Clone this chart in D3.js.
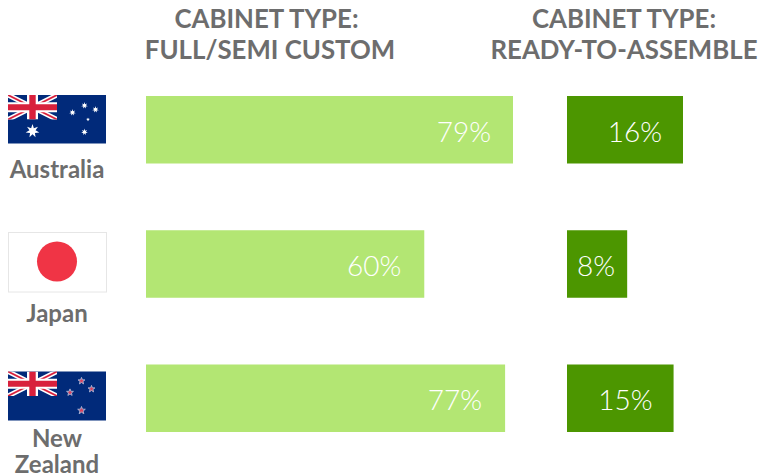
<!DOCTYPE html>
<html><head><meta charset="utf-8">
<script src="https://cdn.jsdelivr.net/npm/d3@7"></script>
<style>html,body{margin:0;padding:0;background:#fff}svg{display:block}text{font-family:Lato,sans-serif}</style>
</head><body><svg id="c" width="761" height="476"></svg>
<script>
const countries = ["Australia","Japan","New Zealand"];
const countryLines = [["Australia"],["Japan"],["New","Zealand"]];
const customValues = [79,59.9,77.3];
const rtaValues = [16,8.3,14.7];
const customLabels = ["79%","60%","77%"];
const rtaLabels = ["16%","8%","15%"];
const headers = [["CABINET TYPE:","FULL/SEMI CUSTOM"],["CABINET TYPE:","READY-TO-ASSEMBLE"]];

const svg = d3.select("#c");
const y = d3.scaleBand().domain(countries).range([96,432]).paddingInner(1-67.5/134.25).paddingOuter(0);
const xL = d3.scaleLinear().domain([0,79]).range([146,513]);
const xR = d3.scaleLinear().domain([0,16]).range([567,683]);
const gray="#6d6d6d";

// headers
[[[266.5,270],headers[0]],[[624,624],headers[1]]].forEach(([cx,ls])=>{
  const t=svg.append("text").attr("text-anchor","middle").attr("font-size",25.8).attr("font-weight",700).attr("fill",gray);
  ls.forEach((s,i)=>t.append("tspan").attr("x",cx[i]).attr("y",28+i*31).text(s));
});

function bars(vals,labels,x,color,offs){
  svg.append("g").selectAll("rect").data(countries).join("rect")
    .attr("x",x(0)).attr("y",d=>y(d)).attr("height",y.bandwidth())
    .attr("width",(d,i)=>x(vals[i])-x(0)).attr("fill",color);
  svg.append("g").selectAll("text").data(countries).join("text")
    .attr("x",(d,i)=>x(vals[i])-offs[i]).attr("y",d=>y(d)+y.bandwidth()/2+12)
    .attr("text-anchor","end").attr("font-size",28).attr("font-weight",300).attr("fill","#fff")
    .text((d,i)=>labels[i]);
}
bars(customValues,customLabels,xL,"#b3e673",[22,23,23]);
bars(rtaValues,rtaLabels,xR,"#4c9600",[21,12,21]);

// country names
const nameY=[[177.5],[322],[447,473]];
countryLines.forEach((ls,i)=>{
  const t=svg.append("text").attr("text-anchor","middle").attr("font-size",24).attr("font-weight",700).attr("fill",gray);
  ls.forEach((s,j)=>t.append("tspan").attr("x",57).attr("y",nameY[i][j]).text(s));
});

// flags
function star(cx,cy,r,pts,inner,fill,stroke){
  const p=[];for(let i=0;i<pts*2;i++){const a=-Math.PI/2+i*Math.PI/pts,q=i%2?r*inner:r;p.push([cx+q*Math.cos(a),cy+q*Math.sin(a)]);}
  const s=svg.append("polygon").attr("points",p.join(" ")).attr("fill",fill);
  if(stroke)s.attr("stroke",stroke).attr("stroke-width",0.9);
}
function jack(x0,y0,w,h){
  const id="cl"+Math.round(y0);
  svg.append("clipPath").attr("id",id).append("rect").attr("x",x0).attr("y",y0).attr("width",w).attr("height",h);
  const g=svg.append("g").attr("clip-path",`url(#${id})`);
  const x1=x0+w,y1=y0+h,cx=x0+w/2,cy=y0+h/2;
  [[x0,y0,x1,y1],[x0,y1,x1,y0]].forEach(([a,b,c,d])=>{
    g.append("line").attr("x1",a).attr("y1",b).attr("x2",c).attr("y2",d).attr("stroke","#fff").attr("stroke-width",5);
    g.append("line").attr("x1",a).attr("y1",b).attr("x2",c).attr("y2",d).attr("stroke","#d8203c").attr("stroke-width",1.8);
  });
  g.append("rect").attr("x",cx-5.5).attr("y",y0).attr("width",11).attr("height",h).attr("fill","#fff");
  g.append("rect").attr("x",x0).attr("y",cy-5).attr("width",w).attr("height",10).attr("fill","#fff");
  g.append("rect").attr("x",cx-3.2).attr("y",y0).attr("width",6.4).attr("height",h).attr("fill","#d8203c");
  g.append("rect").attr("x",x0).attr("y",cy-3).attr("width",w).attr("height",6).attr("fill","#d8203c");
}
function blue(y0,h){svg.append("rect").attr("x",8).attr("y",y0).attr("width",98).attr("height",h).attr("fill","#012a7a");}

// Australia
blue(95,48.5);
jack(8,95,49,24.5);
star(32.5,131,7,7,.45,"#fff");
[[72.5,112.5,3.4],[84.5,105.5,3.4],[95.5,109.5,3.4],[88,119.5,1.9],[84.5,132,3.4]].forEach(s=>star(s[0],s[1],s[2],7,.42,"#fff"));

// Japan
svg.append("rect").attr("x",8.5).attr("y",232.5).attr("width",98).attr("height",59.5).attr("fill","#fff").attr("stroke","#e6e6e6");
svg.append("circle").attr("cx",57).attr("cy",261.5).attr("r",20).attr("fill","#f03445");

// New Zealand
blue(371.5,49);
jack(8,371.5,49,24.5);
[[81.5,381,3.6],[70,392.5,3.6],[91.5,389,3.6],[81.5,410.5,4]].forEach(s=>{star(s[0],s[1],s[2],5,.42,"#d9405e","#a8b8d8");});
</script></body></html>
